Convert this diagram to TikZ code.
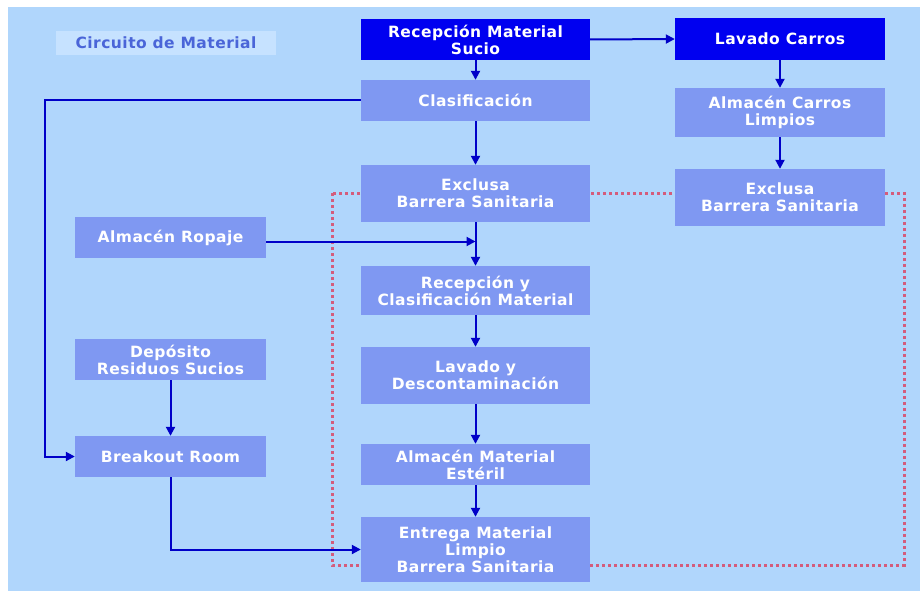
\documentclass[tikz,border=0pt]{standalone}
\usepackage{fontspec}
\setmainfont{DejaVu Sans}
\newfontfamily\boxfont{DejaVu Sans}[LetterSpace=3]
\usetikzlibrary{arrows.meta}
\definecolor{bgblue}{HTML}{B0D6FC}
\definecolor{boxblue}{HTML}{7F98F2}
\definecolor{darkbox}{HTML}{0000F0}
\definecolor{arrowblue}{HTML}{0000C8}
\definecolor{titlebox}{HTML}{C6E2FF}
\definecolor{titletext}{HTML}{4A65D8}
\definecolor{dotred}{HTML}{D45C7C}
\tikzset{
  boxtext/.style={font=\boxfont\fontsize{15.5}{17}\selectfont\bfseries},
  stepbox/.style={fill=boxblue, text=white, boxtext, align=center, inner sep=0pt, draw=none},
  darkstep/.style={stepbox, fill=darkbox},
  wideb/.style={minimum width=229pt},
  rightb/.style={minimum width=210pt},
  leftb/.style={minimum width=191pt},
  flow/.style={draw=arrowblue, line width=2pt, -{Triangle[length=9pt,width=9pt]}},
}
\begin{document}
\begin{tikzpicture}[x=1pt,y=-1pt]
\useasboundingbox (0,0) rectangle (920,591);
\fill[bgblue] (8,7) rectangle (920,591);
\draw[dotred, line width=3pt, dash pattern=on 3pt off 3pt] (332,193) rectangle (904,565);
\node[fill=titlebox, text=titletext, boxtext, minimum width=220pt, minimum height=24pt, inner sep=0pt] (title) at (166,43) {Circuito de Material};
\node[darkstep, wideb, minimum height=41pt] (rms) at (475.5,39.5) {Recepción Material\\Sucio};
\node[darkstep, rightb, minimum height=42pt] (lav) at (780,39) {Lavado Carros};
\node[stepbox, wideb, minimum height=41pt] (cla) at (475.5,100.5) {Clasificación};
\node[stepbox, rightb, minimum height=49pt] (acl) at (780,112.5) {Almacén Carros\\Limpios};
\node[stepbox, wideb, minimum height=57pt] (exc) at (475.5,193.5) {Exclusa\\Barrera Sanitaria};
\node[stepbox, rightb, minimum height=57pt] (exr) at (780,197.5) {Exclusa\\Barrera Sanitaria};
\node[stepbox, leftb, minimum height=41pt] (rop) at (170.5,237.5) {Almacén Ropaje};
\node[stepbox, wideb, minimum height=49pt] (rcm) at (475.5,290.5) {Recepción y\\Clasificación Material};
\node[stepbox, leftb, minimum height=41pt] (dep) at (170.5,359.5) {Depósito\\Residuos Sucios};
\node[stepbox, wideb, minimum height=57pt] (lyd) at (475.5,375.5) {Lavado y\\Descontaminación};
\node[stepbox, leftb, minimum height=41pt] (brk) at (170.5,456.5) {Breakout Room};
\node[stepbox, wideb, minimum height=41pt] (ame) at (475.5,464.5) {Almacén Material\\Estéril};
\node[stepbox, wideb, minimum height=65pt] (ent) at (475.5,549.5) {Entrega Material\\Limpio\\Barrera Sanitaria};
\coordinate (L) at (44.5,100.5);
\draw[flow] (rms.east) -- (lav.west);
\draw[flow] (rms.south) -- (cla.north);
\draw[flow] (lav.south) -- (acl.north);
\draw[flow] (acl.south) -- (exr.north);
\draw[flow] (cla.south) -- (exc.north);
\draw[flow] (exc.south) -- (rcm.north);
\draw[flow] ([yshift=-4pt]rop.east) -- ([yshift=-4pt]rop.east -| exc.south);
\draw[flow] (rcm.south) -- (lyd.north);
\draw[flow] (lyd.south) -- (ame.north);
\draw[flow] (ame.south) -- (ent.north);
\draw[flow] (cla.west) -- (L) |- (brk.west);
\draw[flow] (dep.south) -- (brk.north);
\draw[flow] (brk.south) |- (ent.west);
\end{tikzpicture}
\end{document}
